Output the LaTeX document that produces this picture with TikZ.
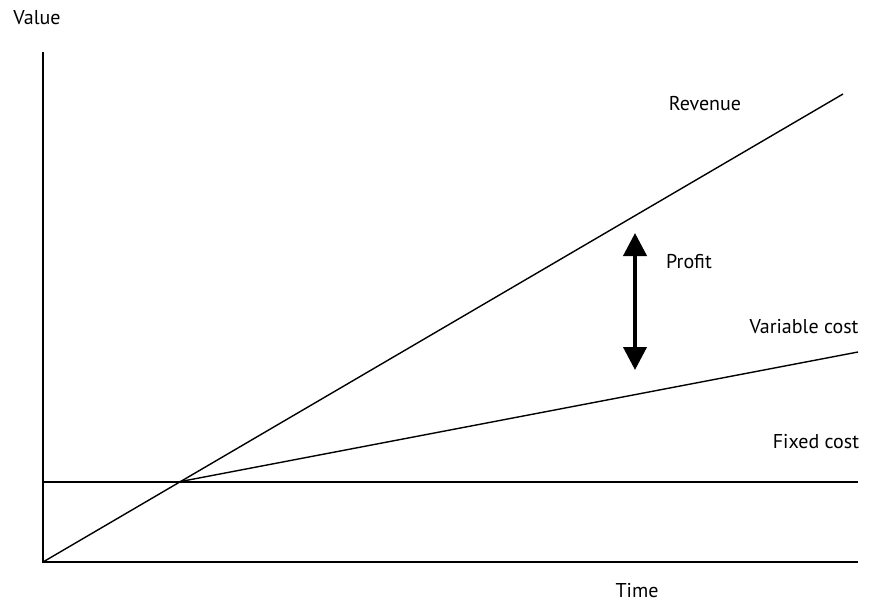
\documentclass[tikz,border=0pt]{standalone}
\usepackage{fontspec}
\setmainfont{PT Sans}
\usetikzlibrary{arrows.meta}
\begin{document}
\begin{tikzpicture}[x=1pt,y=-1pt,
  lbl/.style={font=\fontsize{20}{24}\selectfont, inner sep=0pt},
  curve/.style={line width=1.4pt},
  axis/.style={line width=1.4pt},
  gap/.style={line width=4pt, {Triangle[length=23pt,width=23pt]}-{Triangle[length=23pt,width=23pt]}}]
\useasboundingbox (0,0) rectangle (872,603);
% axes
\coordinate (o) at (43,562);
\coordinate (ytop) at (43,52);
\coordinate (xend) at (858,562);
\draw[axis] (ytop) -- (o) -- (xend);
% fixed cost, variable cost and revenue lines
\coordinate (fc0) at (43,482);
\coordinate (fc1) at (858,482);
\coordinate (be) at (178,482);
\coordinate (vc1) at (858,352);
\coordinate (rv1) at (843,94);
\draw[curve] (fc0) -- (fc1);
\draw[curve] (be) -- (vc1);
\draw[curve] (o) -- (rv1);
% profit gap
\coordinate (pt) at (635,233);
\coordinate (pb) at (635,370);
\draw[gap] (pb) -- (pt);
% labels
\node[lbl] (value) at (37,18) {Value};
\node[lbl] (rev) at (705,104) {Revenue};
\node[lbl] (profit) at (689,262) {Profit};
\node[lbl] (var) at (804,327) {Variable cost};
\node[lbl] (fixed) at (816,442) {Fixed cost};
\node[lbl] (time) at (637,591) {Time};
\end{tikzpicture}
\end{document}
